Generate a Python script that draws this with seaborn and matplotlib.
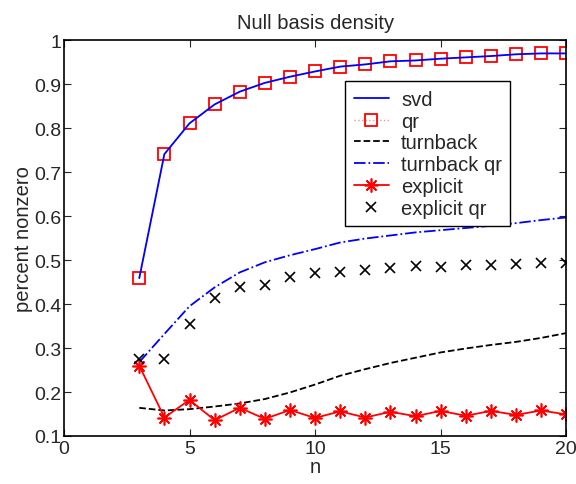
import numpy as np
import pandas as pd
import matplotlib
matplotlib.use("Agg")
import matplotlib.pyplot as plt
import seaborn as sns

# estilo tipo MATLAB
sns.set_style("ticks")
plt.rcParams['font.family'] = ['Liberation Sans', 'DejaVu Sans']
plt.rcParams['font.size'] = 14

# datos
n = list(range(3, 21))
svd = [0.459, 0.741, 0.811, 0.854, 0.883, 0.903, 0.917, 0.929, 0.940, 0.945,
       0.952, 0.954, 0.958, 0.961, 0.964, 0.968, 0.970, 0.970]
qr = [0.459, 0.741, 0.811, 0.854, 0.883, 0.903, 0.917, 0.929, 0.940, 0.945,
      0.952, 0.954, 0.958, 0.961, 0.964, 0.968, 0.970, 0.970]
turnback = [0.164, 0.158, 0.161, 0.167, 0.174, 0.184, 0.199, 0.217, 0.237, 0.252,
            0.266, 0.278, 0.290, 0.299, 0.307, 0.314, 0.323, 0.334]
turnback_qr = [0.268, 0.332, 0.395, 0.438, 0.472, 0.495, 0.511, 0.525, 0.540, 0.549,
               0.556, 0.563, 0.568, 0.573, 0.578, 0.584, 0.591, 0.597]
explicit = [0.260, 0.142, 0.182, 0.136, 0.164, 0.139, 0.159, 0.141, 0.156, 0.142,
            0.155, 0.145, 0.157, 0.146, 0.157, 0.148, 0.158, 0.149]
explicit_qr = [0.275, 0.275, 0.354, 0.414, 0.438, 0.444, 0.461, 0.470, 0.474, 0.477,
               0.482, 0.486, 0.485, 0.488, 0.489, 0.492, 0.494, 0.493]

df = pd.DataFrame({'n': n, 'svd': svd, 'qr': qr, 'turnback': turnback,
                   'turnback qr': turnback_qr, 'explicit': explicit,
                   'explicit qr': explicit_qr})

fig = plt.figure(figsize=(5.76, 4.85), dpi=100)
ax = fig.add_axes([0.111, 0.099, 0.872, 0.816])

sns.lineplot(data=df, x='n', y='svd', ax=ax, color='blue', linewidth=1.3,
             label='svd', zorder=2.5)
sns.lineplot(data=df, x='n', y='qr', ax=ax, color='#ff9090', linestyle=':', linewidth=1,
             marker='s', markersize=8.5, markerfacecolor='none', markeredgecolor='red',
             markeredgewidth=1.3, label='qr', zorder=2)
sns.lineplot(data=df, x='n', y='turnback', ax=ax, color='black', linestyle='--',
             linewidth=1.3, label='turnback')
sns.lineplot(data=df, x='n', y='turnback qr', ax=ax, color='blue', linestyle='-.',
             linewidth=1.3, label='turnback qr')
sns.lineplot(data=df, x='n', y='explicit', ax=ax, color='red', linewidth=1.3,
             marker=(8, 2, 0), markersize=10, markeredgecolor='red',
             markeredgewidth=1.2, label='explicit')
sns.lineplot(data=df, x='n', y='explicit qr', ax=ax, color='black', linestyle='none',
             marker='x', markersize=7, markeredgecolor='black', markeredgewidth=1.2,
             label='explicit qr')

ax.set_xlim(0, 20)
ax.set_ylim(0.1, 1)
ax.set_xticks([0, 5, 10, 15, 20])
ax.set_yticks(np.arange(0.1, 1.01, 0.1))
ax.set_yticklabels(['0.1', '0.2', '0.3', '0.4', '0.5', '0.6', '0.7', '0.8', '0.9', '1'])
ax.tick_params(direction='in', top=True, right=True, length=5, labelsize=14)
ax.tick_params(axis='x', pad=3)
ax.tick_params(axis='y', pad=2)
for s in ax.spines.values():
    s.set_linewidth(1.2)
    s.set_color('black')

ax.set_title("Null basis density", fontsize=14.5, pad=9)
ax.set_xlabel("n", fontsize=14.5, labelpad=0)
ax.set_ylabel("percent nonzero", fontsize=14.5, labelpad=1)

leg = ax.legend(loc='upper left', bbox_to_anchor=(0.56, 0.896), fontsize=14.5,
                fancybox=False, framealpha=1, edgecolor='black', handlelength=1.75,
                borderpad=0.42, labelspacing=0.14, handletextpad=0.6, borderaxespad=0)
leg.get_frame().set_linewidth(1.0)

plt.savefig("out.png", dpi=100)
plt.close()
